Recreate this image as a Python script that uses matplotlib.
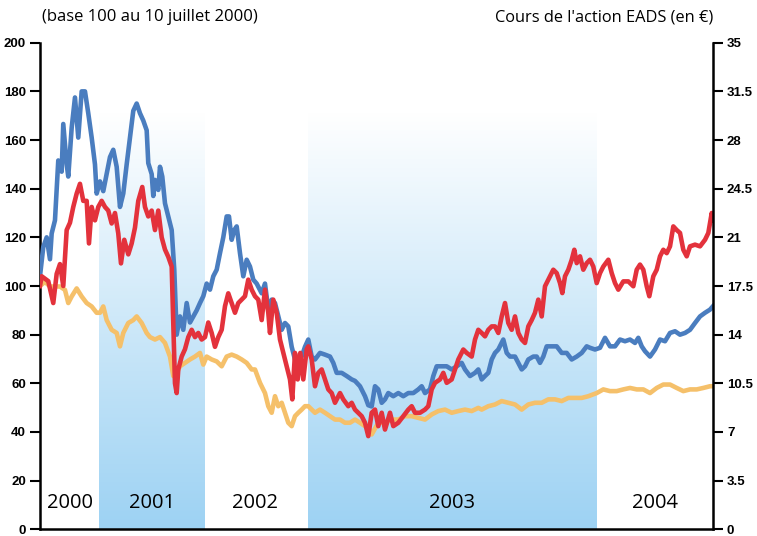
import numpy as np
import matplotlib
matplotlib.use("Agg")
import matplotlib.pyplot as plt
from matplotlib.colors import LinearSegmentedColormap

# position along the time axis (0 = 10 juillet 2000, 673 = fin 2004) and index values
blue_t = [0, 3.3, 6.7, 10, 11.7, 15, 18.3, 21.7, 23.3, 26.7, 28.3, 31.7, 35, 38.3, 41.7, 45,
          48.3, 51.7, 55, 56.7, 60, 63.3, 66.7, 70, 73.3, 76.7, 80, 83.3, 86.7, 90, 93.3, 96.7,
          100, 103.3, 106.7, 108.3, 111.7, 113.3, 115, 118.3, 120, 122.3, 125, 128.3, 131.7,
          134.3, 136.7, 140, 143.3, 146.7, 150, 153.3, 156.7, 160, 163.3, 166.7, 170, 173.3,
          176.7, 180, 183.3, 186.7, 189, 191.7, 194.3, 196.7, 200, 203.3, 206.7, 210, 213.3,
          216.7, 221.7, 225, 228.3, 231.7, 235, 238.3, 241.7, 245, 248.3, 251.7, 255, 258.3,
          261.7, 265, 268.3, 271.7, 275, 280, 285, 290, 293.3, 296.7, 301.7, 306.7, 311.7, 315,
          320, 325, 328.3, 331.7, 335, 338.3, 341.7, 345, 348.3, 353.3, 358.3, 363.3, 368.3,
          373.3, 378.3, 381.7, 385, 390, 393.3, 396.7, 401.7, 406.7, 411.7, 416.7, 421.7, 425,
          430, 435, 438.3, 441.7, 445, 448.3, 451.7, 455, 458.3, 463.3, 466.7, 470, 475, 478.3,
          481.7, 485, 488.3, 493.3, 496.7, 500, 503.3, 506.7, 511.7, 516.7, 521.7, 526.7, 531.7,
          536.7, 541.7, 546.7, 550, 555, 560, 565, 570, 575, 580, 585, 590, 595, 598.3, 601.7,
          605, 610, 615, 620, 625, 630, 635, 640, 645, 650, 655, 660, 665, 670, 673]
blue_v = [104, 116, 120, 111, 121.6, 127, 151.6, 147, 166.6, 150, 145, 165, 177.5, 161, 180, 180,
          171, 161, 150, 138, 143, 139, 146, 153, 156, 149, 132.5, 138, 150, 161, 172, 175,
          171, 168, 164, 150.5, 146, 137, 143.6, 139.5, 149, 145, 134, 128.6, 123,
          106.7, 80, 87.5, 82, 93, 85, 87.5, 90, 93, 95.8, 101, 98.5, 104,
          106.7, 113.5, 120, 128.6, 128.6, 119, 123, 124.5, 113.5, 104, 110.8, 108, 102.6,
          101, 97, 101, 90.3, 94.4, 93, 87.5, 82, 84.8, 83.4, 75, 69.8, 71,
          71, 75, 78, 71, 69.8, 72.5, 71.8, 71, 68.4, 64.3, 64.3, 63, 61.6, 61,
          58.8, 54.7, 51, 50.5, 58.8, 57.5, 52, 53.4, 56, 54.7, 56, 54.7, 56,
          56, 57.5, 58.8, 56, 57.5, 63, 67, 67, 67, 65.7, 67, 68.4, 65.7,
          63, 64.3, 65.7, 61.6, 63, 64.3, 69.8, 72.5, 73.9, 78, 72.5, 71, 71, 68.4,
          65.7, 67, 69.8, 71, 71, 68.4, 71, 75.2, 75.2, 75.2, 72.5, 72.5, 69.8,
          71, 72.5, 75.2, 74.6, 73.9, 74.6, 78.7, 75.2, 75.2, 78, 77.3, 78, 76.6, 78.7, 75.2,
          73.2, 71, 73.9, 78, 77.3, 80.7, 81.4, 80, 80.7, 82, 84.8, 87.5, 89, 90.3, 91.7]

red_t = [0, 1.7, 5, 8.3, 13.3, 16.7, 20, 23.3, 26.7, 30, 33.3, 36.7, 40, 43.3, 46.7, 49, 51.7, 55,
         58.3, 61.7, 65, 68.3, 71.7, 75, 78.3, 81, 84.3, 88.3, 91.7, 95, 98.3, 102.3, 105,
         108.3, 111.7, 115, 118.3, 121.7, 125, 128.3, 131.7, 133.3, 135, 136.7, 138.3, 141.7,
         145, 148.3, 151.7, 155, 158.3, 161.7, 165, 168.3, 171.7, 175, 178.3, 181.7, 185, 188.3,
         191.7, 195, 198.3, 201.7, 205, 208.3, 211.7, 215, 218.3, 221.7, 225, 228.3, 230, 233.3,
         236.7, 240, 243.3, 246.7, 250, 252.3, 255, 257.7, 260.3, 263.3, 266.7, 268.3, 271.7,
         275, 278.3, 281.7, 285, 288.3, 291.7, 295, 300, 303.3, 308.3, 311.7, 315, 318.3, 321.7,
         325, 328.3, 331.7, 335, 338.3, 341.7, 345, 350, 353.3, 358.3, 363.3, 368.3, 371.7, 375,
         380, 385, 388.3, 391.7, 395, 400, 403.3, 406.7, 411.7, 415, 418.3, 423.3, 426.7, 431.7,
         435, 438.3, 441.7, 445, 448.3, 451.7, 455, 458.3, 461.7, 465, 468.3, 471.7, 475, 478.3,
         481.7, 485, 488.3, 491.7, 495, 498.3, 501.7, 505, 508.3, 513.3, 516.7, 520, 522.3, 525,
         528.3, 531.7, 534.3, 536.7, 540, 543.3, 546.7, 550, 553.3, 556.7, 560, 563.3, 568.3,
         571.7, 575, 578.3, 583.3, 588.3, 593.3, 596.7, 600, 603.3, 606.7, 609.3, 613.3, 616.7,
         620, 623.3, 626.7, 630, 633.3, 636.7, 640, 643.3, 646.7, 650, 655, 660, 665, 668.3,
         671.7, 673]
red_v = [100, 104, 103, 102, 93, 105, 109, 100, 123, 126, 132.5, 138, 142, 135, 135, 117.5, 132.5, 127,
         132.5, 135, 132.5, 131, 125.7, 130, 121.6, 109.3, 119, 113, 117.5, 124, 135, 140.7, 132.5,
         128.6, 131, 123, 131, 120, 115, 112, 108, 85, 60, 56, 65.7, 71,
         74, 79, 82, 79, 80.7, 78, 79, 85, 80.7, 75, 79, 82, 91.7, 97,
         93, 89, 93, 94.4, 95.8, 102.6, 98.5, 95.8, 94.4, 86, 98.5, 89, 80.7, 94.4,
         89, 78, 72.5, 67, 61.6, 53.4, 72.5, 61.6, 72.5, 61.6, 74, 75.2, 69.8,
         58.8, 64.3, 65.7, 61.6, 57.5, 56, 52, 56, 53.4, 50.6, 52, 49.2, 47.9, 46.5,
         43.8, 38.3, 47.9, 49.2, 42.4, 47.9, 41, 47.9, 42.4, 43.8, 46.5, 49.2, 50.6, 47.9,
         47.9, 49.2, 50.6, 57.5, 60.2, 61.6, 64.3, 60.2, 61.6, 65.7, 69.8, 73.9, 72.5, 71,
         78, 82, 80.7, 79.3, 82, 83.4, 83.4, 80.7, 87.5, 93, 84.8, 82, 87.5, 80.7,
         78, 76.6, 83.4, 86, 89, 94.4, 87.5, 99.9, 102.6, 106.7, 105.3, 101.2, 97.1, 104,
         106.7, 110.8, 114.9, 109.4, 112.2, 106.7, 109.4, 110.8, 108, 101.2, 105.3, 108, 110.8,
         105.3, 101.2, 98.5, 101.9, 101.9, 99.9, 106.7, 108.8, 106.7, 99.9, 95.8, 104, 106.7,
         112.2, 114.9, 113.5, 116.3, 124.5, 123, 121.8, 114.9, 112.2, 116.3, 117, 116.3, 119, 121.8,
         130, 127]

yellow_t = [0, 5, 10, 15, 20, 25, 28.3, 31.7, 36.7, 41.7, 46.7, 51.7, 56.7, 60, 63.3, 66.7, 71.7,
            76.7, 80, 83.3, 88.3, 93.3, 96.7, 101.7, 106.7, 110, 115, 120, 125, 130, 133.3, 136.7,
            140, 145, 150, 155, 160, 163.3, 166.7, 171.7, 176.7, 181.7, 186.7, 191.7, 196.7,
            201.7, 206.7, 211.7, 215, 220, 225, 228.3, 231.7, 235, 238.3, 241.7, 245, 248.3,
            251.7, 255, 258.3, 261.7, 265, 268.3, 271.7, 275, 280, 285, 290, 295, 300, 305, 310,
            315, 320, 325, 328.3, 331.7, 338.3, 345, 351.7, 358.3, 365, 371.7, 378.3, 385, 391.7,
            398.3, 405, 411.7, 418.3, 425, 431.7, 438.3, 441.7, 448.3, 455, 461.7, 468.3, 475,
            481.7, 488.3, 495, 501.7, 508.3, 515, 521.7, 528.3, 535, 541.7, 548.3, 556.7, 563.3,
            570, 576.7, 583.3, 590, 596.7, 603.3, 610, 616.7, 623.3, 630, 636.7, 643.3, 650,
            656.7, 663.3, 670, 673]
yellow_v = [100, 101.7, 99.8, 99.8, 99.8, 98.4, 93, 95.7, 99, 95.7, 93, 91.6, 89, 89, 91.6, 86, 82,
            80.7, 75.2, 80.7, 84.8, 86, 87.5, 84.8, 80.7, 79, 78, 79, 76.6, 71, 63, 64.3,
            67, 68.4, 69.8, 71, 72.5, 67.7, 71, 69.8, 69, 67, 71, 71.8, 71,
            69.8, 68.4, 65.7, 65.7, 60.2, 56, 50.6, 47.9, 54.7, 50.6, 52, 47.9, 43.8,
            42.4, 46.5, 47.9, 49.2, 50.6, 50.6, 49.2, 47.9, 49.2, 47.9, 46.5, 45.1, 45.1, 43.8, 43.8,
            45.1, 43.8, 42.4, 42, 39, 43.8, 43.8, 45.1, 45.1, 46.5, 46.5, 45.8, 45.1, 47.2,
            48.6, 49.2, 47.9, 48.6, 49.2, 48.6, 49.9, 49.2, 50.6, 51.3, 52.7, 52, 51.3,
            49.2, 51.3, 52, 52, 53.4, 53.4, 52.7, 54, 54, 54, 54.7, 56, 57.5,
            56.8, 56.8, 57.5, 58.1, 57.5, 57.5, 56, 58.1, 59.5, 59.5, 58.1, 56.8, 57.5,
            57.5, 58.1, 58.8, 58.8]

# shaded years (2001 and 2003) and year labels
band_starts = [59, 268]
band_ends = [164, 556]
years = ["2000", "2001", "2002", "2003", "2004"]
year_pos = [30, 112, 215, 412, 615]

right_ticks = [0, 3.5, 7, 10.5, 14, 17.5, 21, 24.5, 28, 31.5, 35]
right_labels = ["0", "3.5", "7", "10.5", "14", "17.5", "21", "24.5", "28", "31.5", "35"]

fig = plt.figure(figsize=(7.57, 5.36), dpi=100)
ax = fig.add_axes([0.0528, 0.0125, 0.8891, 0.9078])

# gradient backgrounds
grad_cmap = LinearSegmentedColormap.from_list("band", ["#9dd2f3", "#ffffff"])
grad = np.linspace(0, 1, 256).reshape(-1, 1)
for s, e in zip(band_starts, band_ends):
    ax.imshow(grad, extent=[s, e, 0, 171], origin="lower", cmap=grad_cmap,
              aspect="auto", zorder=0)

ax.plot(yellow_t, yellow_v, color="#f5c06a", lw=3.3, zorder=2, solid_joinstyle="round")
ax.plot(blue_t, blue_v, color="#4a7dbf", lw=3.3, zorder=3, solid_joinstyle="round")
ax.plot(red_t, red_v, color="#e3323c", lw=3.3, zorder=4, solid_joinstyle="round")

for lab, p in zip(years, year_pos):
    ax.text(p, 11, lab, ha="center", va="center", fontsize=14.5,
            family="Open Sans", color="black", zorder=5)

ax.set_xlim(0, 673)
ax.set_ylim(0, 200)
ax.set_yticks(range(0, 201, 20))
ax.set_xticks([])
for sp in ["top", "right"]:
    ax.spines[sp].set_visible(False)
ax.spines["left"].set_linewidth(1.8)
ax.spines["bottom"].set_linewidth(1.8)
ax.tick_params(axis="y", length=7, width=1.5, pad=3)
for lab in ax.get_yticklabels():
    lab.set_fontweight("bold")
    lab.set_fontsize(9.5)
    lab.set_family("Liberation Sans")

ax2 = ax.twinx()
ax2.set_ylim(0, 35)
ax2.set_yticks(right_ticks)
ax2.set_yticklabels(right_labels)
for sp in ["top", "left", "bottom"]:
    ax2.spines[sp].set_visible(False)
ax2.spines["right"].set_linewidth(1.8)
ax2.tick_params(axis="y", length=7, width=1.5, pad=3)
for lab in ax2.get_yticklabels():
    lab.set_fontweight("bold")
    lab.set_fontsize(9.5)
    lab.set_family("Liberation Sans")

fig.text(42 / 757, 1 - 17 / 536, "(base 100 au 10 juillet 2000)", ha="left", va="center",
         fontsize=12, family="Open Sans")
fig.text(713 / 757, 1 - 17 / 536, "Cours de l'action EADS (en €)", ha="right", va="center",
         fontsize=11.8, family="Open Sans")

fig.savefig("out.png", dpi=100)
